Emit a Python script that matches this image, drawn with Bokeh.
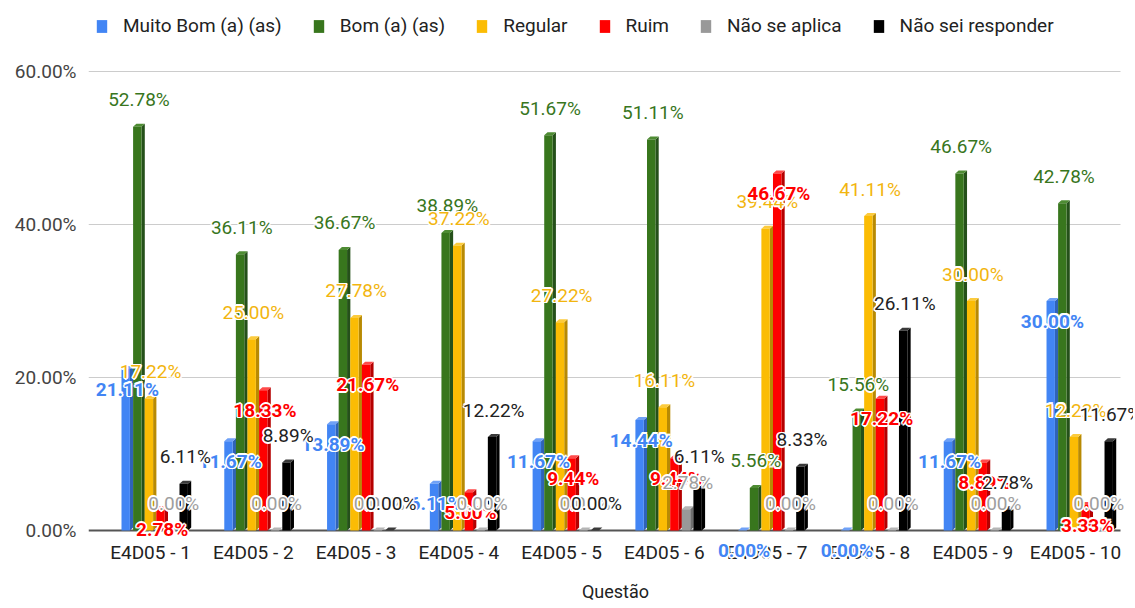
from bokeh.plotting import figure
from bokeh.models import (ColumnDataSource, LabelSet, Label, Legend, LegendItem,
                          FixedTicker, PrintfTickFormatter, Range1d)
from bokeh.core.properties import value
from bokeh.embed import file_html
from bokeh.resources import INLINE

# ---------------- data ----------------
categories = ["E4D05 - 1", "E4D05 - 2", "E4D05 - 3", "E4D05 - 4", "E4D05 - 5",
              "E4D05 - 6", "E4D05 - 7", "E4D05 - 8", "E4D05 - 9", "E4D05 - 10"]
series_names = ["Muito Bom (a) (as)", "Bom (a) (as)", "Regular", "Ruim",
                "Não se aplica", "Não sei responder"]
muito_bom = [21.11, 11.67, 13.89, 6.11, 11.67, 14.44, 0.00, 0.00, 11.67, 30.00]
bom = [52.78, 36.11, 36.67, 38.89, 51.67, 51.11, 5.56, 15.56, 46.67, 42.78]
regular = [17.22, 25.00, 27.78, 37.22, 27.22, 16.11, 39.44, 41.11, 30.00, 12.22]
ruim = [2.78, 18.33, 21.67, 5.00, 9.44, 9.44, 46.67, 17.22, 8.89, 3.33]
nao_se_aplica = [0.00, 0.00, 0.00, 0.00, 0.00, 2.78, 0.00, 0.00, 0.00, 0.00]
nao_sei = [6.11, 8.89, 0.00, 12.22, 0.00, 6.11, 8.33, 26.11, 2.78, 11.67]
y_ticks = [0, 20, 40, 60]
x_title = "Questão"

series_values = [muito_bom, bom, regular, ruim, nao_se_aplica, nao_sei]

# ---------------- styles ----------------
front_colors = ["#4285F4", "#38761D", "#FBBC04", "#FF0000", "#999999", "#000000"]
side_colors = ["#2F63B8", "#25501A", "#B88A03", "#B50000", "#6E6E6E", "#000000"]
top_colors = ["#6FA1F7", "#4E8C33", "#FCCB3D", "#FF4A4A", "#B5B5B5", "#3A3A3A"]
label_colors = ["#4285F4", "#38761D", "#F2B50F", "#FF0000", "#9E9E9E", "#222222"]
label_below = [True, False, False, True, False, False]

FONT = "Roboto"
FS = "19px"
W, H = 1133, 604
FRAME_L, FRAME_R, FRAME_T, FRAME_B = 88, 1133, 4, 604
GRID_END_PX = 1120
ZERO_PX, CAT0_PX = 530, 150          # screen positions of y=0 and first category
pxy = 459 / 60.0                     # pixels per percent point
pxx = 102.78                         # pixels per category
X0 = -(CAT0_PX - FRAME_L) / pxx
X1 = X0 + (FRAME_R - FRAME_L) / pxx
XG = X0 + (GRID_END_PX - FRAME_L) / pxx
Y0 = -(FRAME_B - ZERO_PX) / pxy
Y1 = (ZERO_PX - FRAME_T) / pxy
pitch = 11.6 / pxx
fw = 8.4 / pxx
dx = 3.3 / pxx
dy = 3.0 / pxy
shift = 4.2 / pxx

p = figure(width=W, height=H, output_backend="svg", toolbar_location=None,
           x_range=Range1d(X0, X1), y_range=Range1d(Y0, Y1),
           x_axis_location=None,
           min_border_left=FRAME_L, min_border_right=W - FRAME_R,
           min_border_top=FRAME_T, min_border_bottom=H - FRAME_B)
p.outline_line_color = None
p.background_fill_color = "white"
p.xgrid.grid_line_color = None
p.ygrid.grid_line_color = None

# horizontal grid lines and zero line, ending where the reference's do
p.segment(x0=[X0] * 3, x1=[XG] * 3, y0=y_ticks[1:], y1=y_ticks[1:],
          line_color="#CCCCCC", line_width=1)
p.segment(x0=[X0], x1=[XG], y0=[0], y1=[0], line_color="#555555", line_width=2)

# category labels and axis title (drawn as text so they may sit inside the frame)
cat_src = ColumnDataSource(dict(x=list(range(len(categories))),
                                y=[0] * len(categories), t=categories))
p.add_layout(LabelSet(x="x", y="y", text="t", source=cat_src, y_offset=-22,
                      text_align="center", text_baseline="middle",
                      text_font=value(FONT), text_font_size=value(FS),
                      text_color="#222222"))
p.add_layout(Label(x=(615 - CAT0_PX) / pxx, y=0, y_offset=-61, text=x_title,
                   text_align="center", text_baseline="middle", text_font=FONT,
                   text_font_size="18px", text_color="#222222"))

halo_offsets = [(-1.6, 0), (1.6, 0), (0, -1.6), (0, 1.6),
                (-1.2, -1.2), (1.2, -1.2), (-1.2, 1.2), (1.2, 1.2)]

legend_items = []
label_sources = []
for j, vals in enumerate(series_values):
    xc = [i + (j - 2.5) * pitch + shift for i in range(len(categories))]
    xl = [x - fw / 2 for x in xc]
    xr = [x + fw / 2 for x in xc]
    sxs = [[r, r + dx, r + dx, r] for r in xr]
    sys_ = [[0, dy, v + dy, v] for v in vals]
    p.patches(xs=sxs, ys=sys_, fill_color=side_colors[j], line_color=None)
    txs = [[l, l + dx, r + dx, r] for l, r in zip(xl, xr)]
    tys = [[v, v + dy, v + dy, v] for v in vals]
    p.patches(xs=txs, ys=tys, fill_color=top_colors[j], line_color=None)
    r = p.vbar(x=xc, top=vals, bottom=0, width=fw, fill_color=front_colors[j],
               line_color=None)
    legend_items.append(LegendItem(label=series_names[j], renderers=[r]))
    label_sources.append(ColumnDataSource(dict(
        x=[x + dx / 2 for x in xc], y=vals, t=["%.2f%%" % v for v in vals])))

# data labels, series by series (later series drawn on top), each with a white halo
for j, src in enumerate(label_sources):
    yoff = -20 if label_below[j] else 27
    weight = "bold" if label_below[j] else "normal"
    for ox, oy in halo_offsets:
        p.add_layout(LabelSet(x="x", y="y", text="t", source=src, x_offset=ox,
                              y_offset=yoff + oy, text_align="center",
                              text_baseline="middle", text_font=value(FONT),
                              text_font_size=value(FS), text_font_style=weight,
                              text_color="white"))
    p.add_layout(LabelSet(x="x", y="y", text="t", source=src, y_offset=yoff,
                          text_align="center", text_baseline="middle",
                          text_font=value(FONT), text_font_size=value(FS),
                          text_font_style=weight, text_color=label_colors[j]))

p.yaxis.ticker = FixedTicker(ticks=y_ticks)
p.yaxis.formatter = PrintfTickFormatter(format="%.2f%%")
p.yaxis.axis_line_color = None
p.yaxis.major_tick_line_color = None
p.yaxis.minor_tick_line_color = None
p.yaxis.major_tick_out = 0
p.yaxis.major_tick_in = 0
p.yaxis.major_label_text_font = FONT
p.yaxis.major_label_text_font_size = FS
p.yaxis.major_label_text_color = "#444444"
p.yaxis.major_label_standoff = 12

frame_h = FRAME_B - FRAME_T
legend = Legend(items=legend_items, orientation="horizontal",
                location=(7, frame_h - 33),
                glyph_width=13, glyph_height=16, label_standoff=15, spacing=30,
                padding=2, margin=0, border_line_color=None,
                background_fill_alpha=0, label_text_font=FONT,
                label_text_font_size=FS, label_text_color="#222222")
p.add_layout(legend, "center")

open("out.html", "w").write(file_html(p, INLINE))
